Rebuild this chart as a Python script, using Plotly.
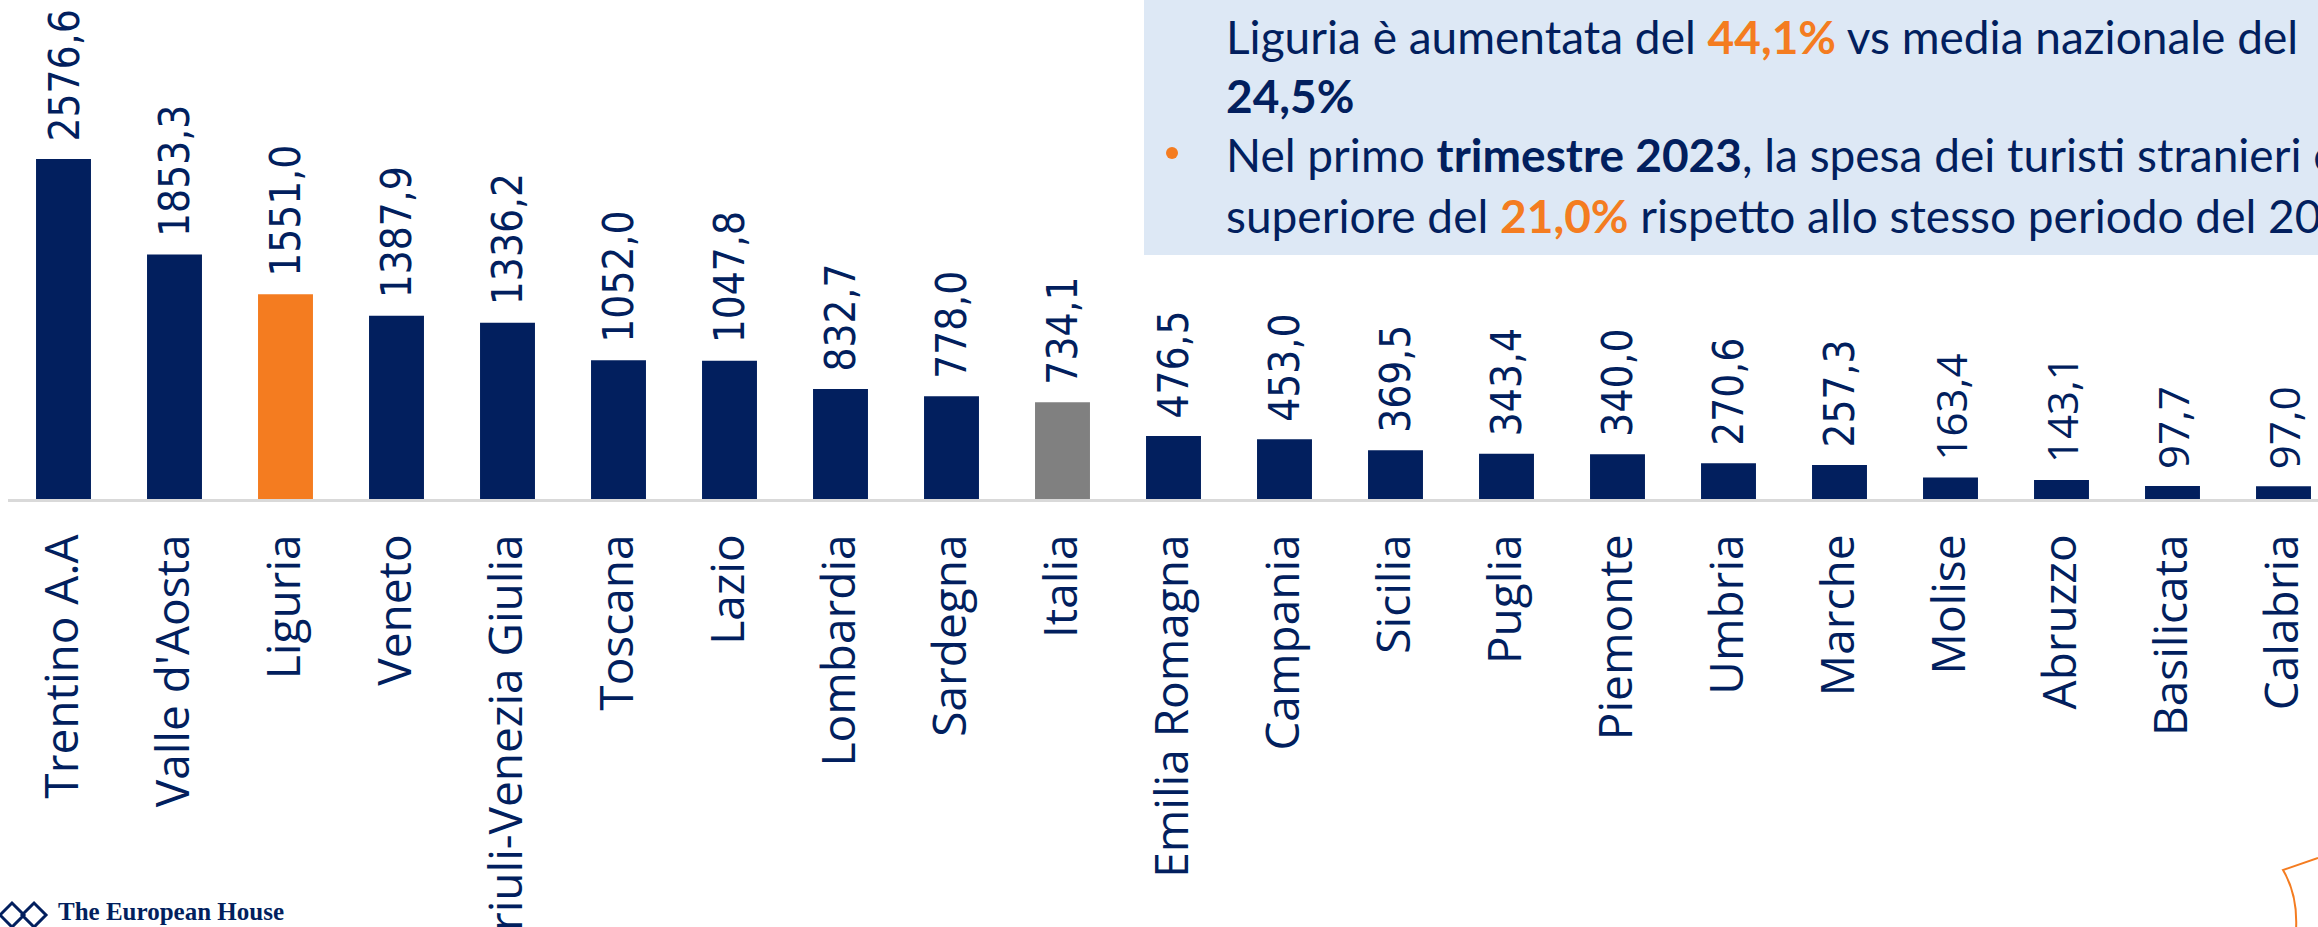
import plotly.graph_objects as go

# ---------------- data ----------------
categories = ["Trentino A.A", "Valle d'Aosta", "Liguria", "Veneto", "Friuli-Venezia Giulia",
              "Toscana", "Lazio", "Lombardia", "Sardegna", "Italia", "Emilia Romagna",
              "Campania", "Sicilia", "Puglia", "Piemonte", "Umbria", "Marche", "Molise",
              "Abruzzo", "Basilicata", "Calabria"]
values = [2576.6, 1853.3, 1551.0, 1387.9, 1336.2, 1052.0, 1047.8, 832.7, 778.0, 734.1,
          476.5, 453.0, 369.5, 343.4, 340.0, 270.6, 257.3, 163.4, 143.1, 97.7, 97.0]
value_labels = ["2576,6", "1853,3", "1551,0", "1387,9", "1336,2", "1052,0", "1047,8", "832,7",
                "778,0", "734,1", "476,5", "453,0", "369,5", "343,4", "340,0", "270,6", "257,3",
                "163,4", "143,1", "97,7", "97,0"]

# ---------------- styling ----------------
W, H = 2318, 927
NAVY = "#021F5E"
ORANGE = "#F47C20"
GREY = "#808080"
BOX = "#DDE8F5"
ML, MT, PLOT_H = 8, 0, 499
PLOT_W = W - ML

highlight = {"Liguria": ORANGE, "Italia": GREY}
bar_colors = [highlight.get(c, NAVY) for c in categories]


def px_x(x):
    return (x - ML) / PLOT_W


def px_y(y):
    return 1 - (y - MT) / PLOT_H


fig = go.Figure()
fig.add_trace(go.Bar(
    x=categories, y=values, marker=dict(color=bar_colors, line=dict(width=0)),
    hoverinfo="skip", showlegend=False,
))

annotations = []
narrow_tail = set(categories[-4:])
for c, v, lab in zip(categories, values, value_labels):
    fam = "Open Sans" if c in narrow_tail else "DejaVu Sans Condensed, DejaVu Sans"
    annotations.append(dict(
        x=c, y=v, xref="x", yref="y", text=lab, textangle=-90, showarrow=False,
        xanchor="center", yanchor="bottom", yshift=15,
        font=dict(family=fam, size=42, color=NAVY),
    ))

# text box lines
TXT_FONT = dict(family="Lato", size=46, color=NAVY)
lines = [
    (1224, 54, "Liguria è aumentata del <b><span style='color:%s'>44,1%%</span></b> vs media nazionale del" % ORANGE),
    (1224, 113, "<b>24,5%</b>"),
    (1224, 171, "Nel primo <b>trimestre 2023</b>, la spesa dei turisti stranieri è"),
    (1224, 232, "superiore del <b><span style='color:%s'>21,0%%</span></b> rispetto allo stesso periodo del 2022" % ORANGE),
]
for x, base, t in lines:
    annotations.append(dict(
        x=px_x(x), y=px_y(base - 17), xref="paper", yref="paper", text=t,
        showarrow=False, xanchor="left", yanchor="middle", align="left", font=TXT_FONT,
    ))

# logo text
annotations.append(dict(
    x=px_x(56), y=px_y(911), xref="paper", yref="paper", text="<b>The European House</b>",
    showarrow=False, xanchor="left", yanchor="middle",
    font=dict(family="Liberation Serif", size=25, color=NAVY),
))

shapes = [
    dict(type="rect", xref="paper", yref="paper", x0=px_x(1144), x1=px_x(2330),
         y0=px_y(255), y1=px_y(-5), fillcolor=BOX, line=dict(width=0), layer="below"),
    dict(type="circle", xref="paper", yref="paper", x0=px_x(1166), x1=px_x(1178),
         y0=px_y(159), y1=px_y(147), fillcolor=ORANGE, line=dict(width=0)),
]


def path(points):
    return "M " + " L ".join("%.5f,%.5f" % (px_x(a), px_y(b)) for a, b in points) + " Z"


# logo icon (two interlocking diamonds)
shapes.append(dict(type="path", xref="paper", yref="paper",
                   path=path([(0, 915), (12, 903), (24, 915), (12, 927)]),
                   line=dict(color=NAVY, width=3)))
shapes.append(dict(type="path", xref="paper", yref="paper",
                   path=path([(22, 915), (34, 903), (46, 915), (34, 927)]),
                   line=dict(color=NAVY, width=3)))
# decorative orange stroke bottom-right
shapes.append(dict(type="path", xref="paper", yref="paper",
                   path="M %.5f,%.5f L %.5f,%.5f Q %.5f,%.5f %.5f,%.5f" % (
                       px_x(2318), px_y(858), px_x(2283), px_y(870),
                       px_x(2298), px_y(895), px_x(2296), px_y(930)),
                   line=dict(color=ORANGE, width=2)))

fig.update_layout(
    width=W, height=H,
    margin=dict(l=ML, r=0, t=MT, b=H - PLOT_H, pad=0, autoexpand=False),
    paper_bgcolor="white", plot_bgcolor="white",
    bargap=0.505,
    xaxis=dict(type="category", range=[-0.5, 20.5 - (ML + 111 * 21 - W) / 111],
               showline=True, linecolor="#D9D9D9", linewidth=3, ticks="",
               tickangle=-90, tickfont=dict(family="Open Sans", size=46, color=NAVY),
               showgrid=False, zeroline=False, fixedrange=True, ticklabelstandoff=14,
               automargin=False),
    yaxis=dict(range=[0, PLOT_H / ((499 - 159) / 2576.6)], visible=False, fixedrange=True,
               automargin=False),
    annotations=annotations, shapes=shapes,
    showlegend=False,
)

fig.write_html("out.html", config={"displayModeBar": False},
               post_script="document.body.style.margin='0';document.body.style.overflow='hidden';")
